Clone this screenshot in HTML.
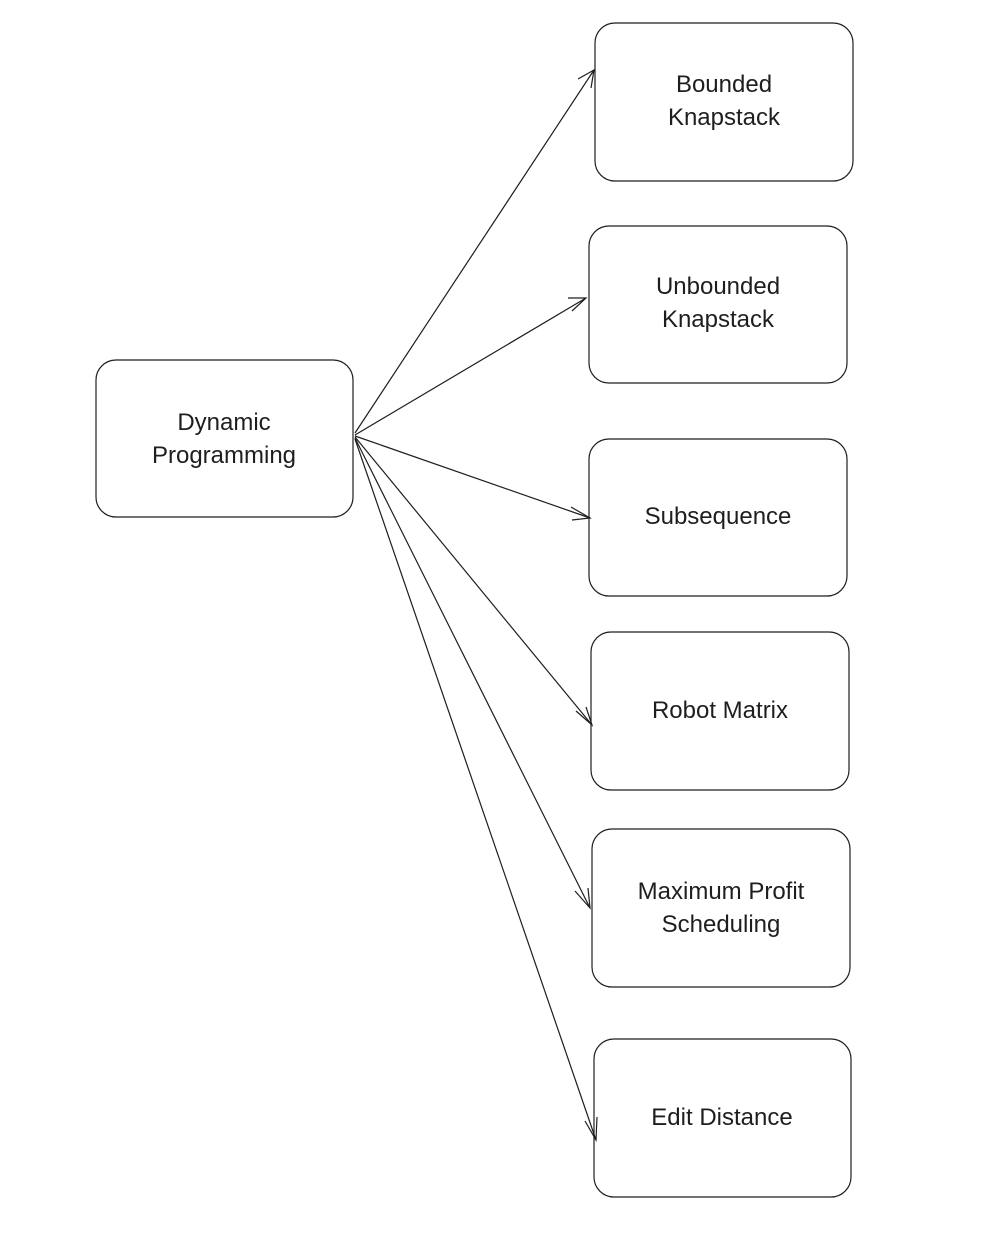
<!DOCTYPE html>
<html><head><meta charset="utf-8"><style>
html,body{margin:0;padding:0;background:#fff;}
svg{display:block;}
text{font-family:"Liberation Sans",sans-serif;font-size:24px;fill:#1e1e1e;text-anchor:middle;}
</style></head><body>
<svg width="986" height="1258" viewBox="0 0 986 1258" xmlns="http://www.w3.org/2000/svg">
<g fill="none" stroke="#1e1e1e" stroke-width="1.2">
<rect x="96" y="360" width="257" height="157" rx="20"/>
<rect x="595" y="23" width="258" height="158" rx="20"/>
<rect x="589" y="226" width="258" height="157" rx="20"/>
<rect x="589" y="439" width="258" height="157" rx="20"/>
<rect x="591" y="632" width="258" height="158" rx="20"/>
<rect x="592" y="829" width="258" height="158" rx="20"/>
<rect x="594" y="1039" width="257" height="158" rx="20"/>
<line x1="355" y1="433" x2="594" y2="70"/>
<line x1="355" y1="435" x2="586" y2="298"/>
<line x1="355" y1="436" x2="590" y2="518"/>
<line x1="355" y1="437" x2="592" y2="725"/>
<line x1="355" y1="438" x2="590" y2="908"/>
<line x1="355" y1="439" x2="596" y2="1140"/>
<path d="M578 79 L594 70 L591 88"/>
<path d="M568 298 L586 298 L572 311"/>
<path d="M571 507 L590 518 L572 520"/>
<path d="M576 711 L592 725 L586 707"/>
<path d="M575 891 L590 908 L588 888"/>
<path d="M585 1121 L596 1140 L597 1117"/>
</g>
<text x="224" y="430">Dynamic</text>
<text x="224" y="463">Programming</text>
<text x="724" y="92">Bounded</text>
<text x="724" y="125">Knapstack</text>
<text x="718" y="294">Unbounded</text>
<text x="718" y="327">Knapstack</text>
<text x="718" y="524">Subsequence</text>
<text x="720" y="718">Robot Matrix</text>
<text x="721" y="899">Maximum Profit</text>
<text x="721" y="932">Scheduling</text>
<text x="722" y="1125">Edit Distance</text>
</svg>
</body></html>
